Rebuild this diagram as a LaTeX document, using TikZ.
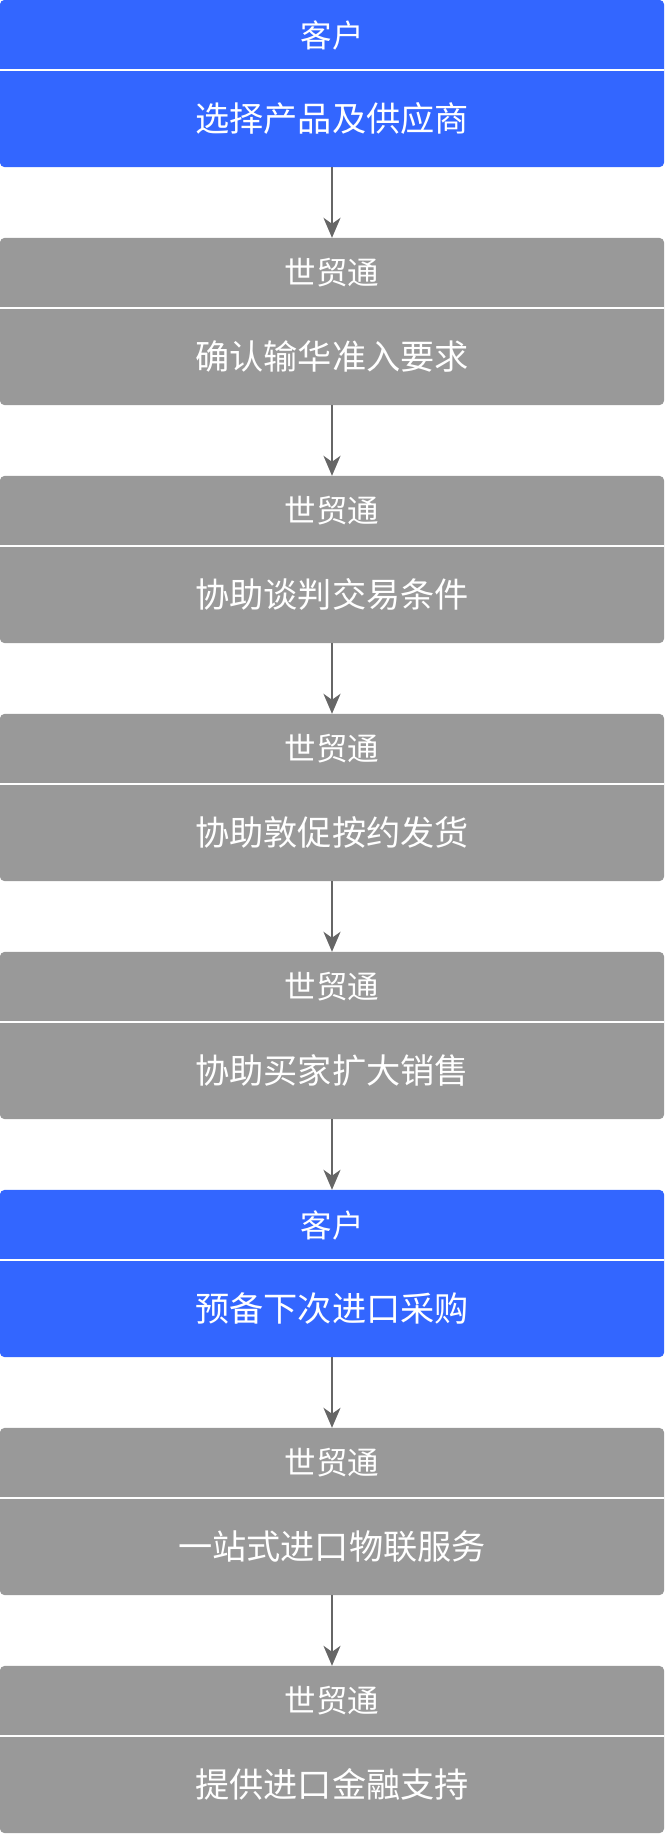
\documentclass[tikz,border=0pt]{standalone}
\usepackage{fontspec}
\setmainfont{Noto Sans CJK SC}
\usepackage{tikz}
\usetikzlibrary{arrows,arrows.meta,positioning}
\usetikzlibrary{backgrounds,calc}
\definecolor{kehublue}{HTML}{3366FF}
\definecolor{stgray}{HTML}{999999}
\definecolor{arrgray}{HTML}{666666}
\tikzstyle{head}=[minimum width=664pt,minimum height=70pt,inner sep=0pt,
text=white,font=\fontsize{31.5}{34}\selectfont]
\tikzstyle{body}=[minimum width=664pt,minimum height=97pt,inner sep=0pt,
text=white,font=\fontsize{34.2}{37}\selectfont]
\tikzstyle{kbox}=[fill=kehublue,rounded corners=5pt]
\tikzstyle{sbox}=[fill=stgray,rounded corners=5pt]
\tikzstyle{sep}=[draw=white,line width=2pt]
\tikzstyle{flow}=[draw=arrgray,line width=2pt,-{Stealth[length=20pt,width=17pt,inset=6pt]}]

\begin{document}
\begin{tikzpicture}[x=1pt,y=1pt]
\useasboundingbox (0,0) rectangle (664,-1834);
%\node at (332,10) {flow};
\node[head] (h1) at (332,-35) {客户};
\node[body] (t1) at (332,-118.5) {选择产品及供应商};
\node[head] (h2) at (332,-273) {世贸通};
\node[body] (t2) at (332,-356.5) {确认输华准入要求};
\node[head] (h3) at (332,-511) {世贸通};
\node[body] (t3) at (332,-594.5) {协助谈判交易条件};
\node[head] (h4) at (332,-749) {世贸通};
\node[body] (t4) at (332,-832.5) {协助敦促按约发货};
\node[head] (h5) at (332,-987) {世贸通};
\node[body] (t5) at (332,-1070.5) {协助买家扩大销售};
\node[head] (h6) at (332,-1225) {客户};
\node[body] (t6) at (332,-1308.5) {预备下次进口采购};
\node[head] (h7) at (332,-1463) {世贸通};
\node[body] (t7) at (332,-1546.5) {一站式进口物联服务};
\node[head] (h8) at (332,-1701) {世贸通};
\node[body] (t8) at (332,-1784.5) {提供进口金融支持};
\begin{scope}[on background layer]
\path[kbox] (h1.north west) rectangle (t1.south east);
\path[sbox] (h2.north west) rectangle (t2.south east);
\path[sbox] (h3.north west) rectangle (t3.south east);
\path[sbox] (h4.north west) rectangle (t4.south east);
\path[sbox] (h5.north west) rectangle (t5.south east);
\path[kbox] (h6.north west) rectangle (t6.south east);
\path[sbox] (h7.north west) rectangle (t7.south east);
\path[sbox] (h8.north west) rectangle (t8.south east);
\end{scope}
\draw[sep](h1.south west) -- (h1.south east); \draw[sep](h2.south west) -- (h2.south east);
\draw[sep](h3.south west) -- (h3.south east); \draw[sep](h4.south west) -- (h4.south east);
\draw[sep](h5.south west) -- (h5.south east); \draw[sep](h6.south west) -- (h6.south east);
\draw[sep](h7.south west) -- (h7.south east); \draw[sep](h8.south west) -- (h8.south east);
\draw[flow](t1) -- (h2); \draw[flow](t2) -- (h3); \draw[flow](t3) -- (h4);
\draw[flow](t4) -- (h5); \draw[flow](t5) -- (h6); \draw[flow](t6) -- (h7);
\draw[flow](t7) -- (h8);
\end{tikzpicture}
\end{document}
